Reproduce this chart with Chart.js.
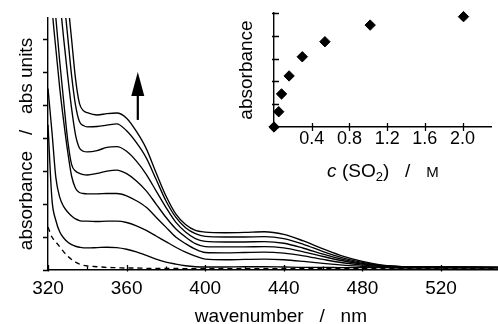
<!DOCTYPE html>
<html>
<head>
<meta charset="utf-8">
<script src="https://cdn.jsdelivr.net/npm/chart.js@4.4.1/dist/chart.umd.min.js"></script>
<style>
  html, body { margin: 0; padding: 0; background: #fff; }
  #wrap { position: relative; width: 498px; height: 324px; overflow: hidden; }
  #main { position: absolute; left: 0; top: 0; }
  #inset { position: absolute; left: 220px; top: 0; }
</style>
</head>
<body>
<div id="wrap">
  <canvas id="main" width="498" height="324"></canvas>
  <canvas id="inset" width="278" height="185"></canvas>
</div>
<script>
// spectra: wavelength (nm) and absorbance (abs units) per SO2 concentration
const wavelengths = [320, 322, 324, 326, 328, 330, 332, 334, 336, 338, 340,
  345, 350, 355, 360, 365, 370, 375, 380, 385, 390, 395, 400,
  410, 420, 430, 440, 450, 460, 470, 480, 490, 500, 520, 550];

const absBlank = [1.3, 1.0, 0.85, 0.7, 0.55, 0.42, 0.32, 0.24, 0.18, 0.14, 0.12,
  0.1, 0.08, 0.07, 0.06, 0.06, 0.05, 0.05, 0.05, 0.05, 0.04, 0.04, 0.04,
  0.04, 0.04, 0.04, 0.04, 0.04, 0.04, 0.04, 0.04, 0.04, 0.04, 0.04, 0.04];
const absG = [4.4, 2.15, 1.5, 1.15, 0.97, 0.85, 0.77, 0.72, 0.69, 0.67, 0.67,
  0.68, 0.69, 0.68, 0.63, 0.55, 0.44, 0.33, 0.24, 0.18, 0.13, 0.1, 0.09,
  0.09, 0.1, 0.1, 0.09, 0.08, 0.08, 0.07, 0.07, 0.07, 0.06, 0.06, 0.06];
const absF = [5.5, 4.2, 2.8, 2.2, 1.92, 1.76, 1.64, 1.55, 1.5, 1.48, 1.48,
  1.47, 1.48, 1.48, 1.44, 1.34, 1.2, 1.03, 0.86, 0.69, 0.54, 0.42, 0.33,
  0.31, 0.32, 0.33, 0.31, 0.26, 0.2, 0.15, 0.11, 0.09, 0.08, 0.08, 0.07];
const absE = [10, 8.0, 6.7, 5.5, 4.5, 3.6, 2.85, 2.48, 2.35, 2.32, 2.31,
  2.31, 2.32, 2.32, 2.25, 2.1, 1.9, 1.6, 1.3, 1.0, 0.8, 0.63, 0.53,
  0.52, 0.53, 0.54, 0.51, 0.43, 0.32, 0.22, 0.15, 0.11, 0.09, 0.08, 0.08];
const absD = [11, 9.2, 7.64, 6.3, 5.1, 3.95, 3.2, 3.0, 2.93, 2.89, 2.88,
  2.93, 3.0, 3.03, 2.92, 2.7, 2.4, 2.0, 1.6, 1.25, 1.0, 0.8, 0.71,
  0.7, 0.7, 0.71, 0.67, 0.55, 0.41, 0.28, 0.18, 0.12, 0.09, 0.08, 0.08];
const absC = [12, 10.8, 9.6, 8.2, 7.0, 5.9, 4.9, 4.1, 3.7, 3.6, 3.58,
  3.62, 3.72, 3.74, 3.6, 3.3, 2.9, 2.4, 1.9, 1.45, 1.15, 0.95, 0.87,
  0.85, 0.85, 0.86, 0.81, 0.66, 0.48, 0.32, 0.2, 0.13, 0.1, 0.09, 0.08];
const absB = [13, 12, 10.8, 9.6, 8.3, 7.1, 5.9, 5.0, 4.5, 4.38, 4.34,
  4.35, 4.39, 4.43, 4.22, 3.86, 3.4, 2.75, 2.1, 1.6, 1.28, 1.1, 1.02,
  1.0, 1.0, 1.01, 0.95, 0.78, 0.56, 0.37, 0.23, 0.14, 0.1, 0.09, 0.08];
const absA = [14, 13, 12, 10.8, 9.6, 8.2, 7.0, 5.8, 5.05, 4.83, 4.77,
  4.7, 4.74, 4.76, 4.6, 4.2, 3.68, 2.95, 2.25, 1.7, 1.38, 1.2, 1.15,
  1.13, 1.14, 1.16, 1.08, 0.88, 0.64, 0.42, 0.26, 0.15, 0.1, 0.09, 0.08];

const waveTicks = [320, 360, 400, 440, 480, 520];
const waveMinorTicks = [340, 380, 420, 460, 500, 540];
const absTicks = [0, 1, 2, 3, 4, 5, 6, 7];

// inset: absorbance vs c(SO2)
const so2Conc = [0, 0.05, 0.08, 0.16, 0.3, 0.54, 1.02, 2.01];
const so2Abs = [0, 0.67, 1.45, 2.24, 3.08, 3.74, 4.47, 4.84];
const concTicks = [0.4, 0.8, 1.2, 1.6, 2.0];
const insetAbsTicks = [0, 1, 2, 3, 4, 5];

// arrow "increasing c" in data units of the main plot
const arrowNm = 365.7, arrowFrom = 4.55, arrowTo = 6.0;

const FONT = "'Liberation Sans', Arial, Helvetica, sans-serif";

const toPoints = (ys) => wavelengths.map((w, i) => ({ x: w, y: ys[i] }));
const spectrum = (ys, dashed) => ({
  data: toPoints(ys),
  borderColor: '#000',
  borderWidth: 1.35,
  borderDash: dashed ? [5, 4] : [],
  pointRadius: 0,
  fill: false,
  cubicInterpolationMode: 'monotone'
});

const mainTicks = {
  id: 'mainTicks',
  afterDraw(chart) {
    const { ctx, scales: { x, y } } = chart;
    ctx.save();
    ctx.strokeStyle = '#000';
    ctx.lineWidth = 1.3;
    ctx.beginPath();
    waveTicks.forEach(v => {
      const px = Math.round(x.getPixelForValue(v)) + 0.5;
      ctx.moveTo(px, y.bottom + 1.5); ctx.lineTo(px, y.bottom - 5);
    });
    waveMinorTicks.forEach(v => {
      const px = Math.round(x.getPixelForValue(v)) + 0.5;
      ctx.moveTo(px, y.bottom); ctx.lineTo(px, y.bottom - 3.5);
    });
    absTicks.forEach(v => {
      const py = Math.round(y.getPixelForValue(v)) + 0.5;
      ctx.moveTo(x.left - 5, py); ctx.lineTo(x.left, py);
    });
    ctx.stroke();

    // arrow
    const ax = x.getPixelForValue(arrowNm);
    const y0 = y.getPixelForValue(arrowFrom);
    const y1 = y.getPixelForValue(arrowTo);
    ctx.lineWidth = 2.2;
    ctx.beginPath();
    ctx.moveTo(ax, y0); ctx.lineTo(ax, y1 + 20);
    ctx.stroke();
    ctx.fillStyle = '#000';
    ctx.beginPath();
    ctx.moveTo(ax, y1);
    ctx.lineTo(ax - 6.5, y1 + 24);
    ctx.lineTo(ax + 6.5, y1 + 24);
    ctx.closePath();
    ctx.fill();
    ctx.restore();
  }
};

new Chart(document.getElementById('main'), {
  type: 'line',
  data: {
    datasets: [
      spectrum(absBlank, true),
      spectrum(absG), spectrum(absF), spectrum(absE), spectrum(absD),
      spectrum(absC), spectrum(absB), spectrum(absA)
    ]
  },
  options: {
    responsive: false,
    animation: false,
    devicePixelRatio: 1,
    layout: { padding: { top: 18, right: 0, bottom: 0, left: 0 } },
    plugins: { legend: { display: false }, tooltip: { enabled: false } },
    scales: {
      x: {
        type: 'linear',
        min: 320,
        max: 549,
        afterBuildTicks: s => { s.ticks = waveTicks.map(v => ({ value: v })); },
        ticks: { autoSkip: false, maxRotation: 0, padding: 7, color: '#000', font: { family: FONT, size: 19 } },
        grid: { display: false, drawTicks: false },
        border: { display: true, color: '#000', width: 1.4 },
        title: {
          display: true,
          text: '   wavenumber   /   nm',
          color: '#000',
          font: { family: FONT, size: 19, lineHeight: 0.8 },
          padding: { top: 0, bottom: 0 }
        },
        afterFit: s => { s.height = 54; }
      },
      y: {
        min: 0,
        max: 7.64,
        afterBuildTicks: s => { s.ticks = absTicks.map(v => ({ value: v })); },
        ticks: { display: false },
        grid: { display: false, drawTicks: false },
        border: { display: true, color: '#000', width: 1.4 },
        title: {
          display: true,
          text: 'absorbance   /   abs units',
          color: '#000',
          font: { family: FONT, size: 19, lineHeight: 0.8 },
          padding: { top: 19, bottom: 0 }
        },
        afterFit: s => { s.width = 48; }
      }
    }
  },
  plugins: [mainTicks]
});

const insetDecor = {
  id: 'insetDecor',
  afterDraw(chart) {
    const { ctx, scales: { x, y } } = chart;
    ctx.save();
    ctx.strokeStyle = '#000';
    ctx.lineWidth = 1.3;
    ctx.beginPath();
    concTicks.forEach(v => {
      const px = Math.round(x.getPixelForValue(v)) + 0.5;
      ctx.moveTo(px, y.bottom + 4); ctx.lineTo(px, y.bottom - 4);
    });
    insetAbsTicks.forEach(v => {
      const py = Math.round(y.getPixelForValue(v)) + 0.5;
      ctx.moveTo(x.left - 2, py); ctx.lineTo(x.left + 5, py);
    });
    ctx.stroke();

    // axis title: c (SO2) / M with italic c and subscript 2
    const parts = [
      { t: 'c', f: 'italic 19px ' + FONT, dy: 0 },
      { t: ' (SO', f: '19px ' + FONT, dy: 0 },
      { t: '2', f: '13px ' + FONT, dy: 4 },
      { t: ')   /   ', f: '19px ' + FONT, dy: 0 },
      { t: 'M', f: '15px ' + FONT, dy: 0 }
    ];
    let total = 0;
    parts.forEach(p => { ctx.font = p.f; p.w = ctx.measureText(p.t).width; total += p.w; });
    let cx = (x.left + x.right) / 2 - total / 2;
    const base = y.bottom + 50;
    ctx.fillStyle = '#000';
    ctx.textBaseline = 'alphabetic';
    ctx.textAlign = 'left';
    parts.forEach(p => { ctx.font = p.f; ctx.fillText(p.t, cx, base + p.dy); cx += p.w; });
    ctx.restore();
  }
};

new Chart(document.getElementById('inset'), {
  type: 'scatter',
  data: {
    datasets: [{
      data: so2Conc.map((c, i) => ({ x: c, y: so2Abs[i] })),
      pointStyle: 'rectRot',
      pointRadius: 5.2,
      pointBackgroundColor: '#000',
      pointBorderColor: '#000',
      pointBorderWidth: 1,
      clip: false
    }]
  },
  options: {
    responsive: false,
    animation: false,
    devicePixelRatio: 1,
    layout: { padding: { top: 13, right: 5, bottom: 0, left: 0 } },
    plugins: { legend: { display: false }, tooltip: { enabled: false } },
    scales: {
      x: {
        type: 'linear',
        min: 0,
        max: 2.31,
        afterBuildTicks: s => { s.ticks = concTicks.map(v => ({ value: v })); },
        ticks: {
          autoSkip: false, maxRotation: 0, padding: 1, color: '#000',
          font: { family: FONT, size: 18 },
          callback: v => v.toFixed(1)
        },
        grid: { display: false, drawTicks: false },
        border: { display: true, color: '#000', width: 1.4 },
        afterFit: s => { s.height = 58; }
      },
      y: {
        min: 0,
        max: 5,
        afterBuildTicks: s => { s.ticks = insetAbsTicks.map(v => ({ value: v })); },
        ticks: { display: false },
        grid: { display: false, drawTicks: false },
        border: { display: true, color: '#000', width: 1.4 },
        title: {
          display: true,
          text: 'absorbance',
          color: '#000',
          font: { family: FONT, size: 19, lineHeight: 0.8 },
          padding: { top: 19, bottom: 0 }
        },
        afterFit: s => { s.width = 54; }
      }
    }
  },
  plugins: [insetDecor]
});
</script>
</body>
</html>
